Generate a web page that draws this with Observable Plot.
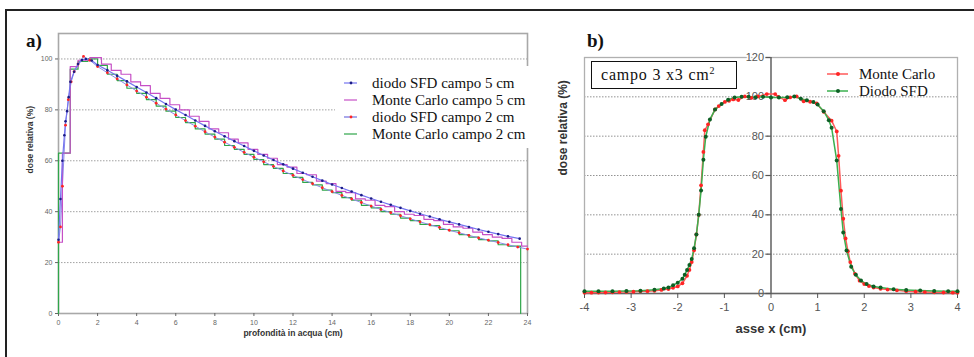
<!DOCTYPE html>
<html><head><meta charset="utf-8">
<script src="https://cdn.jsdelivr.net/npm/d3@7"></script>
<script src="https://cdn.jsdelivr.net/npm/@observablehq/plot@0.6"></script>
<style>
body{margin:0;background:#fff;}
#wrap{position:relative;width:974px;height:357px;overflow:hidden;background:#fff;}
#border{position:absolute;left:5px;top:9px;width:990px;height:400px;border-top:2px solid #222;border-left:2px solid #222;}
.panel{position:absolute;top:0;}
.serif{font-family:"Liberation Serif","Times New Roman",serif;color:#111;}
.tag{position:absolute;font-weight:bold;font-size:19px;line-height:19px;}
.leg{position:absolute;background:#fff;}
.row{position:absolute;left:0;height:16px;width:100%;}
.row svg{position:absolute;top:0;}
.row span{position:absolute;top:0;line-height:16px;font-size:15px;white-space:nowrap;}
#boxb{position:absolute;left:591px;top:61px;height:26px;border:1.3px solid #111;background:#fff;font-size:16px;line-height:26px;letter-spacing:0.8px;padding-left:9px;box-sizing:content-box;width:135px;}
</style></head>
<body><div id="wrap"><div id="border"></div></div>
<script>
// ---------- Panel a: depth dose curves ----------
const depthD5 = [0,0.1,0.2,0.3,0.36,0.44,0.52,0.61,0.8,1.0,1.2,1.4,1.7,2,2.5,3,3.5,4,4.5,5,5.5,6,6.5,7,7.5,8,8.5,9,9.5,10,10.5,11,11.5,12,12.5,13,13.5,14,14.5,15,15.5,16,16.5,17,17.5,18,18.5,19,19.5,20,20.5,21,21.5,22,22.5,23,23.6];
const doseD5 = [29,45,60,70,75.5,79.5,85,91,95,98,99.6,100,99.4,97.6,95.6,93.4,91.2,89.0,86.8,84.6,82.3,80.1,78.0,75.8,73.7,71.6,69.6,67.7,65.8,63.9,62.1,60.3,58.6,56.9,55.3,53.7,52.2,50.7,49.3,47.9,46.5,45.2,43.9,42.7,41.5,40.3,39.2,38.1,37.0,36.0,35.0,34.0,33.0,32.1,31.2,30.3,29.4];

const depthM5 = [0,0.2,0.6,1.0,1.6,2.2,2.7,3.2,3.7,4.2,4.7,5.2,5.7,6.2,6.7,7.2,7.7,8.2,8.7,9.2,9.7,10.2,10.7,11.2,11.7,12.2,12.7,13.2,13.7,14.2,14.7,15.2,15.7,16.2,16.7,17.2,17.7,18.2,18.7,19.2,19.7,20.2,20.7,21.2,21.7,22.2,22.7,23.2,23.7,24.0];
const doseM5 = [28,63,97,99.5,100.5,98.0,95.5,94.0,91.0,89.5,86.5,84.5,82.0,80.0,77.5,75.5,72.5,71.0,68.5,67.0,64.5,62.5,61.0,58.5,57.5,55.0,54.5,52.0,51.0,48.0,47.5,45.0,44.5,42.5,42.0,40.0,39.0,38.5,37.0,36.5,35.0,34.0,33.5,32.0,31.0,30.0,29.5,28.0,26.5,26.5];

const depthD2 = [0,0.1,0.2,0.36,0.5,0.65,0.8,1.0,1.28,1.6,2,2.5,3,3.5,4,4.5,5,5.5,6,6.5,7,7.5,8,8.5,9,9.5,10,10.5,11,11.5,12,12.5,13,13.5,14,14.5,15,15.5,16,16.5,17,17.5,18,18.5,19,19.5,20,20.5,21,21.5,22,22.5,23,23.5,24];
const doseD2 = [28,34,50,74,84,91,95,98,101,99.5,97.0,94.6,92.2,89.8,87.4,85.0,82.6,80.3,78.0,75.8,73.6,71.4,69.3,67.3,65.3,63.3,61.4,59.6,57.8,56.0,54.3,52.6,51.0,49.4,47.9,46.4,45.0,43.6,42.2,40.9,39.6,38.4,37.2,36.0,34.9,33.8,32.7,31.7,30.7,29.7,28.8,27.9,27.0,26.1,25.3];

const depthM2 = [0,0,0.6,1.0,1.5,2,2.5,3,3.5,4,4.5,5,5.5,6,6.5,7,7.5,8,8.5,9,9.5,10,10.5,11,11.5,12,12.5,13,13.5,14,14.5,15,15.5,16,16.5,17,17.5,18,18.5,19,19.5,20,20.5,21,21.5,22,22.5,23,23.65,23.65];
const doseM2 = [0,63,96,99,100,97.5,94.0,91.5,88.5,86.5,84.0,81.5,79.5,77.0,75.0,72.5,70.5,68.5,66.0,64.5,62.5,60.5,58.5,57.0,55.0,53.5,51.5,50.5,48.5,47.5,45.5,44.5,42.5,41.5,40.0,39.0,37.5,36.5,35.0,34.5,33.0,32.5,31.0,30.0,29.0,28.5,27.0,26.5,26.0,0];

const seriesA = ["diodo SFD campo 5 cm","Monte Carlo campo 5 cm","diodo SFD campo 2 cm","Monte Carlo campo 2 cm"];
const xTicksA = [0,2,4,6,8,10,12,14,16,18,20,22,24];
const yTicksA = [0,20,40,60,80,100];

// ---------- Panel b: lateral profile ----------
const xMC = [-4.0,-3.85,-3.7,-3.55,-3.4,-3.25,-3.1,-2.95,-2.8,-2.65,-2.5,-2.35,-2.2,-2.1,-2.0,-1.9,-1.8,-1.75,-1.7,-1.65,-1.6,-1.55,-1.5,-1.45,-1.42,-1.35,-1.2,-1.12,-0.99,-0.9,-0.81,-0.7,-0.56,-0.42,-0.28,-0.09,0.09,0.16,0.3,0.41,0.55,0.7,0.84,0.98,1.13,1.3,1.41,1.45,1.5,1.55,1.6,1.65,1.7,1.8,1.9,2.0,2.1,2.2,2.35,2.5,2.7,2.9,3.1,3.3,3.5,3.7,3.9,4.0];
const doseMC = [0.4,0.4,0.5,0.5,0.6,0.7,0.8,0.9,1.1,1.2,1.4,1.8,2.3,2.9,3.6,5.2,9,12,16,22,30,40,55,72,83,86,93.6,95.3,97.4,98,98.7,98.4,100.2,99.5,100.2,101.4,101.4,100,98.3,99.7,100.2,97.7,97.5,96.6,92.4,87.9,82.4,70,52.3,38,28,21.5,16,10,6.5,4.8,3.8,3.0,2.4,2.0,1.6,1.2,0.9,0.7,0.6,0.5,0.4,0.4];
const xSFD = [-4.0,-3.7,-3.4,-3.1,-2.8,-2.5,-2.3,-2.2,-2.1,-2.0,-1.9,-1.85,-1.8,-1.75,-1.7,-1.65,-1.6,-1.55,-1.5,-1.45,-1.4,-1.31,-1.2,-1.06,-0.92,-0.78,-0.63,-0.48,-0.33,-0.17,0,0.17,0.35,0.5,0.64,0.77,0.91,1.0,1.13,1.24,1.3,1.41,1.5,1.55,1.62,1.72,1.82,1.93,2.05,2.2,2.35,2.63,2.9,3.2,3.5,3.8,4.0];
const doseSFD = [1.2,1.2,1.2,1.3,1.4,1.9,2.6,3.0,4.2,5.5,7.5,9.5,12,14.5,17.6,23,30,40,52.4,68,79.7,88.5,93.5,96.4,98.5,99.7,100,100,99.8,100,99.7,99.6,99.8,100.2,99,98.3,97.4,96.1,92.7,88.1,84.3,67.6,43,31,21.9,13.6,9.5,6.6,4.8,3.6,3.0,2.2,1.8,1.5,1.3,1.2,1.1];
const seriesB = ["Monte Carlo","Diodo SFD"];
const xTicksB = [-4,-3,-2,-1,0,1,2,3,4];
const yTicksB = [0,20,40,60,80,100,120];

const rows = (xs, ys) => xs.map((x, i) => ({x, y: ys[i]}));
const cBlueLine = "#7474f0", cNavy = "#1c1c86", cMag = "#c64fc6", cRed = "#ff2424", cGreen = "#2fa64a";
const cRedLine = "#ff5a5a", cGreenLine = "#3bb04f", cGreenDot = "#0d5f25";

const wrap = document.getElementById("wrap");
const sans = "'Liberation Sans', Arial, sans-serif";

// Panel a
const A_d5 = rows(depthD5, doseD5), A_m5 = rows(depthM5, doseM5), A_d2 = rows(depthD2, doseD2), A_m2 = rows(depthM2, doseM2);
const plotA = Plot.plot({
  width: 545, height: 357,
  marginLeft: 58, marginRight: 18, marginTop: 33, marginBottom: 44,
  x: {domain: [0, 24], axis: null}, y: {domain: [0, 110], axis: null},
  style: {fontFamily: sans, fontSize: "7px", color: "#666", background: "transparent", overflow: "visible"},
  marks: [
    Plot.gridY(yTicksA.filter(d => d > 0), {stroke: "#8a8a8a", strokeOpacity: 1, strokeDasharray: "1.5,1.5", strokeWidth: 0.8}),
    Plot.frame({stroke: "#a8a8a8", strokeWidth: 1.6}),
    Plot.axisY(yTicksA, {tickSize: 3, tickPadding: 3, label: null, fontSize: 7}),
    Plot.axisX(xTicksA, {tickSize: 3, tickPadding: 4, label: null, fontSize: 7}),
    Plot.line(A_m2, {x: "x", y: "y", curve: "step-after", stroke: cGreen, strokeWidth: 1.2}),
    Plot.line(A_d2, {x: "x", y: "y", stroke: "#8c8ce8", strokeWidth: 1}),
    Plot.line(A_m5, {x: "x", y: "y", curve: "step-after", stroke: cMag, strokeWidth: 1.2}),
    Plot.line(A_d5, {x: "x", y: "y", stroke: cBlueLine, strokeWidth: 1.2}),
    Plot.dot(A_d2, {x: "x", y: "y", r: 1.4, fill: cRed, stroke: null}),
    Plot.dot(A_d5, {x: "x", y: "y", r: 1.3, fill: cNavy, stroke: null}),
    Plot.text(["profondità in acqua (cm)"], {frameAnchor: "bottom", dy: 22, fontSize: 8.5, fontWeight: "bold", fill: "#333"}),
    Plot.text(["dose relativa (%)"], {frameAnchor: "left", dx: -28, rotate: -90, fontSize: 8.5, fontWeight: "bold", fill: "#333"})
  ]
});
plotA.classList.add("panel"); plotA.style.left = "0px";
wrap.appendChild(plotA);

// Panel b
const B_mc = rows(xMC, doseMC), B_sfd = rows(xSFD, doseSFD);
const plotB = Plot.plot({
  width: 429, height: 357,
  marginLeft: 39, marginRight: 17, marginTop: 57, marginBottom: 64,
  x: {domain: [-4, 4], axis: null}, y: {domain: [0, 120], axis: null},
  style: {fontFamily: sans, fontSize: "11px", color: "#555", background: "transparent", overflow: "visible"},
  marks: [
    Plot.gridY(yTicksB.filter(d => d > 0), {stroke: "#777", strokeOpacity: 1, strokeDasharray: "1.5,1.5", strokeWidth: 0.8}),
    Plot.frame({stroke: "#b0b0b0", strokeWidth: 1.3}),
    Plot.text(yTicksB, {x: 0, y: d => d, text: d => String(d), dx: -7, textAnchor: "end", fontSize: 11, fill: "#555", stroke: "white", strokeWidth: 3}),
    Plot.ruleX([0], {stroke: "#555", strokeWidth: 1.4}),
    Plot.ruleY([0], {stroke: "#666", strokeWidth: 1.4}),
    Plot.ruleY(yTicksB, {x1: 0, x2: 0, insetLeft: -5, stroke: "#555", strokeWidth: 1.2}),
    Plot.axisX(xTicksB, {tickSize: 5, tickPadding: 5, label: null, fontSize: 11, tickFormat: d => String(d)}),
    Plot.line(B_mc, {x: "x", y: "y", stroke: cRedLine, strokeWidth: 1.5}),
    Plot.line(B_sfd, {x: "x", y: "y", stroke: cGreenLine, strokeWidth: 1.5}),
    Plot.dot(B_mc, {x: "x", y: "y", r: 1.9, fill: cRed, stroke: null}),
    Plot.dot(B_sfd, {x: "x", y: "y", r: 2, fill: cGreenDot, stroke: null}),
    Plot.text(["asse x (cm)"], {frameAnchor: "bottom", dy: 39, fontSize: 13, fontWeight: "bold", fill: "#333"}),
    Plot.text(["dose relativa (%)"], {frameAnchor: "left", dx: -21, rotate: -90, fontSize: 12, fontWeight: "bold", fill: "#333"})
  ]
});
plotB.classList.add("panel"); plotB.style.left = "545px";
wrap.appendChild(plotB);

// tags
function addDiv(cls, html, style) { const d = document.createElement("div"); d.className = cls; d.innerHTML = html; Object.assign(d.style, style); wrap.appendChild(d); return d; }
addDiv("tag serif", "a)", {left: "26px", top: "31px"});
addDiv("tag serif", "b)", {left: "587px", top: "31px"});

// legend a
const legA = addDiv("leg serif", "", {left: "335px", top: "66px", width: "196px", height: "82px"});
const swA = [[cBlueLine, cNavy], [cMag, null], ["#6f6fe0", cRed], [cGreen, null]];
seriesA.forEach((s, i) => {
  const r = document.createElement("div"); r.className = "row"; r.style.top = (9 + i * 17) + "px";
  const [lc, dc] = swA[i];
  r.innerHTML = `<svg width="14" height="16" style="left:9px"><line x1="0" y1="8" x2="13" y2="8" stroke="${lc}" stroke-width="1.2"/>${dc ? `<circle cx="7" cy="8" r="1.4" fill="${dc}"/>` : ""}</svg><span style="left:37px">${s}</span>`;
  legA.appendChild(r);
});
// legend b
const legB = addDiv("leg serif", "", {left: "825px", top: "66px", width: "120px", height: "34px", background: "transparent"});
const swB = [[cRedLine, cRed], [cGreenLine, cGreenDot]];
seriesB.forEach((s, i) => {
  const r = document.createElement("div"); r.className = "row"; r.style.top = (0 + i * 17) + "px";
  const [lc, dc] = swB[i];
  r.innerHTML = `<svg width="24" height="16" style="left:2px"><line x1="0" y1="8" x2="21" y2="8" stroke="${lc}" stroke-width="1.5"/><circle cx="11" cy="8" r="2" fill="${dc}"/></svg><span style="left:34px">${s}</span>`;
  legB.appendChild(r);
});
const box = addDiv("serif", "campo 3 x3 cm<sup style='font-size:10px;vertical-align:6px;line-height:0'>2</sup>", {});
box.id = "boxb";
</script>
</body></html>
